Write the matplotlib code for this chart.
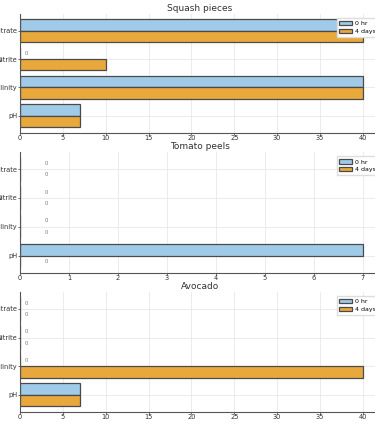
import matplotlib
matplotlib.use("Agg")
import matplotlib.pyplot as plt
import numpy as np

params = ["Nitrate", "Nitrite", "Alkalinity", "pH"]
titles = ["Squash pieces", "Tomato peels", "Avocado"]
hr0 = [[40, 0, 40, 7],
       [0, 0, 0, 7],
       [0, 0, 0, 7]]
days4 = [[40, 10, 40, 7],
         [0, 0, 0, 0],
         [0, 0, 40, 7]]

blue = "#9fcbe8"
orange = "#e9a83c"
edge = "#4a4a4a"

fig = plt.figure(figsize=(3.75, 4.28), dpi=100)
# axes boxes (left, bottom, width, height) - they run past the right edge
boxes = [(0.0533, 0.6904, 0.96, 0.2769),
         (0.0533, 0.3633, 0.96, 0.2815),
         (0.0533, 0.0381, 0.96, 0.2797)]

y = np.arange(len(params))[::-1]
h = 0.4
for i in range(3):
    ax = fig.add_axes(boxes[i])
    ax.barh(y + h / 2, hr0[i], height=h, color=blue, edgecolor=edge, linewidth=0.9, label="0 hr")
    ax.barh(y - h / 2, days4[i], height=h, color=orange, edgecolor=edge, linewidth=0.9, label="4 days")
    for yy, v0, v4 in zip(y, hr0[i], days4[i]):
        if v0 == 0:
            ax.text(0.5, yy + h / 2, "0", ha="left", va="center", fontsize=3.8, color="#777777")
        if v4 == 0:
            ax.text(0.5, yy - h / 2, "0", ha="left", va="center", fontsize=3.8, color="#777777")
    ax.set_yticks(y)
    ax.set_yticklabels(params)
    ax.set_title(titles[i], fontsize=6.5, color="#333333", pad=2.5)
    ax.grid(True, color="#e8e8e8", linewidth=0.6)
    ax.set_axisbelow(True)
    for s in ["top", "right"]:
        ax.spines[s].set_visible(False)
    for s in ["left", "bottom"]:
        ax.spines[s].set_color("#555555")
        ax.spines[s].set_linewidth(0.8)
    ax.tick_params(labelsize=4.8, colors="#333333", length=1.2, width=0.5, pad=0.6)
    ax.legend(loc="upper right", bbox_to_anchor=(1.005, 0.99), fontsize=4.5, frameon=True,
              borderpad=0.45, handlelength=2.0, handleheight=0.7, labelspacing=0.35,
              handletextpad=0.5, framealpha=1, edgecolor="#dddddd", fancybox=False)

fig.savefig("out.png", dpi=100)
